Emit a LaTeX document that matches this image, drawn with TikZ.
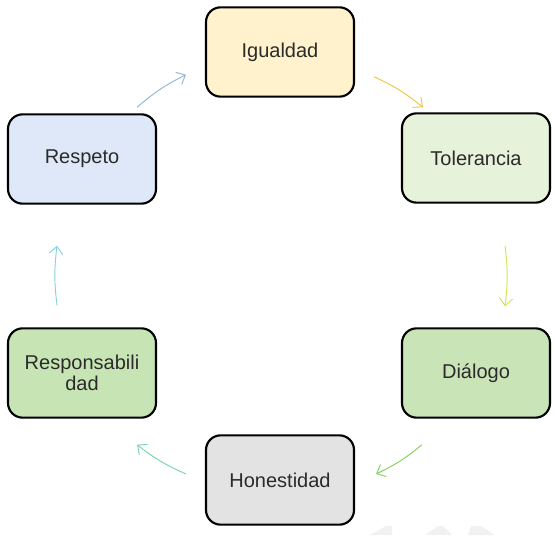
\documentclass[tikz,border=0pt]{standalone}
\usepackage{fontspec}
\setmainfont{Liberation Sans}
\usetikzlibrary{arrows.meta}
\definecolor{textgray}{HTML}{2B2B2B}
\definecolor{igualdadfill}{HTML}{FFF2CC}
\definecolor{toleranciafill}{HTML}{E6F2DA}
\definecolor{dialogofill}{HTML}{C9E4B6}
\definecolor{honestidadfill}{HTML}{E3E3E3}
\definecolor{responsfill}{HTML}{C7E4B4}
\definecolor{respetofill}{HTML}{DFE8F8}
\definecolor{arrowblue}{HTML}{93B4CE}
\definecolor{arrowgold}{HTML}{F3C246}
\definecolor{arrowlime}{HTML}{D2E25A}
\definecolor{arrowgreen}{HTML}{82CF60}
\definecolor{arrowteal}{HTML}{79D3A8}
\definecolor{arrowcyan}{HTML}{86D3DA}
\definecolor{markgray}{HTML}{F1F1F1}

\begin{document}
\begin{tikzpicture}
[x=0.75pt,y=0.75pt,>={Straight Barb[length=5.5pt,width=10pt]},
 value node/.style={draw=black,line width=1.6pt,rounded corners=11pt,minimum width=111pt,minimum height=67pt,align=center,text=textgray,font=\fontsize{15}{16}\selectfont},
 link/.style={->,line width=0.7pt,bend left=7}]

  \useasboundingbox (0,0) rectangle (555,535);

  % faint marks at the bottom
  \fill [markgray] (370,0) -- (386,9) -- (392,9) -- (392,0) -- cycle;
  \fill [markgray] (425,0) -- (438,9) -- (443,9) -- (452,0) -- cycle;
  \fill [markgray] (468,0) -- (471,9) -- (481,9) -- (495,0) -- cycle;

  \node (igualdad) [value node, fill=igualdadfill] at (280,483) {Igualdad};
  \node (tolerancia) [value node, fill=toleranciafill] at (476,377) {Tolerancia};
  \node (dialogo) [value node, fill=dialogofill] at (476,162) {Diálogo};
  \node (honestidad) [value node, fill=honestidadfill] at (280,55) {Honestidad};
  \node (responsabilidad) [value node, fill=responsfill] at (82,162) {Responsabili\\dad};
  \node (respeto) [value node, fill=respetofill] at (82,376) {Respeto};

  \path
  ([shift={(-20,6)}]respeto.north east) edge [link, arrowblue] ([shift={(-19,23)}]igualdad.south west)
  ([shift={(19,21)}]igualdad.south east) edge [link, arrowgold] ([shift={(22,5)}]tolerancia.north west)
  ([shift={(29,-42)}]tolerancia.south) edge [link, arrowlime] ([shift={(29,21)}]dialogo.north)
  ([shift={(21,-26)}]dialogo.south west) edge [link, arrowgreen] ([shift={(21,6)}]honestidad.east)
  ([shift={(-19,6)}]honestidad.west) edge [link, arrowteal] ([shift={(-20,-26)}]responsabilidad.south east)
  ([shift={(-25,22)}]responsabilidad.north) edge [link, arrowcyan] ([shift={(-25,-41)}]respeto.south);

\end{tikzpicture}
\end{document}
